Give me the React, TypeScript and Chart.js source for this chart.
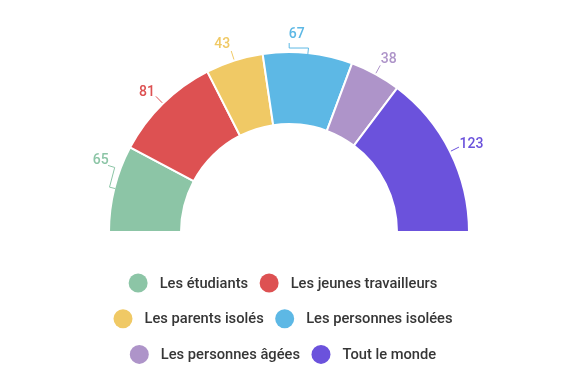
import React, { useEffect, useRef } from 'react';
import { Chart, registerables } from 'chart.js';

Chart.register(...registerables);

const categories = [
  'Les étudiants',
  'Les jeunes travailleurs',
  'Les parents isolés',
  'Les personnes isolées',
  'Les personnes âgées',
  'Tout le monde',
];
const values = [65, 81, 43, 67, 38, 123];
const colors = ['#8CC5A6', '#DD5152', '#F0C965', '#5DB8E5', '#AE94C9', '#6B52DC'];
const legendRows = [
  [0, 1],
  [2, 3],
  [4, 5],
];

const FONT = 'Roboto, "Noto Sans", sans-serif';

// Leader-line elbows for the labels that were displaced (relative offsets in px)
const elbows: Record<number, { path: number[][]; text: number[] }> = {
  0: { path: [[5.2, -19.7], [-6.7, -2]], text: [-7.3, -6.2] },
  3: { path: [[-19.3, 0], [0, -5]], text: [7.5, -9.2] },
};

const arcLabels = {
  id: 'arcLabels',
  afterDatasetsDraw(chart: any) {
    const ctx = chart.ctx as CanvasRenderingContext2D;
    const meta = chart.getDatasetMeta(0);
    const data = chart.data.datasets[0].data as number[];
    ctx.save();
    ctx.font = `500 14px ${FONT}`;
    ctx.textBaseline = 'middle';
    meta.data.forEach((arc: any, i: number) => {
      const p = arc.getProps(['startAngle', 'endAngle', 'outerRadius', 'x', 'y'], true);
      const mid = (p.startAngle + p.endAngle) / 2;
      const c = Math.cos(mid);
      const s = Math.sin(mid);
      const text = String(data[i]);
      ctx.strokeStyle = colors[i];
      ctx.fillStyle = colors[i];
      ctx.lineWidth = 1;
      const el = elbows[i];
      if (el) {
        const r0 = p.outerRadius - 1;
        const r1 = p.outerRadius + 5;
        let px = p.x + c * r1;
        let py = p.y + s * r1;
        ctx.beginPath();
        ctx.moveTo(p.x + c * r0, p.y + s * r0);
        ctx.lineTo(px, py);
        el.path.forEach(([dx, dy]) => {
          px += dx;
          py += dy;
          ctx.lineTo(px, py);
        });
        ctx.stroke();
        ctx.textAlign = 'center';
        ctx.fillText(text, px + el.text[0], py + el.text[1] + 1);
        return;
      }
      const r0 = p.outerRadius + 1;
      const r1 = p.outerRadius + 10;
      const ex = p.x + c * r1;
      const ey = p.y + s * r1;
      ctx.beginPath();
      ctx.moveTo(p.x + c * r0, p.y + s * r0);
      ctx.lineTo(ex, ey);
      ctx.stroke();
      const cy = ey + s * 7.5;
      if (c >= 0) {
        ctx.textAlign = 'left';
        ctx.fillText(text, ex + 0.5, cy + 1);
      } else {
        ctx.textAlign = 'right';
        ctx.fillText(text, ex - 1, cy + 1);
      }
    });
    ctx.restore();
  },
};

const customLegend = {
  id: 'customLegend',
  afterDraw(chart: any) {
    const ctx = chart.ctx as CanvasRenderingContext2D;
    const labels = chart.data.labels as string[];
    const radius = 9.5;
    const boxToText = 21.5;
    const textToBox = 21;
    const rowGap = 35.7;
    const firstRowY = chart.chartArea.bottom + 50;
    const centerX = chart.width / 2;
    ctx.save();
    ctx.font = `500 14.7px ${FONT}`;
    ctx.textBaseline = 'middle';
    ctx.textAlign = 'left';
    legendRows.forEach((row, ri) => {
      const widths = row.map((idx) => ctx.measureText(labels[idx]).width);
      let span = radius;
      row.forEach((_, k) => {
        span += boxToText + widths[k];
        if (k < row.length - 1) span += textToBox;
      });
      let x = centerX - span / 2 + radius;
      const y = firstRowY + ri * rowGap;
      row.forEach((idx, k) => {
        ctx.fillStyle = colors[idx];
        ctx.beginPath();
        ctx.arc(x, y, radius, 0, Math.PI * 2);
        ctx.fill();
        ctx.fillStyle = '#363636';
        ctx.fillText(labels[idx], x + boxToText, y + 1);
        x += boxToText + widths[k] + textToBox;
      });
    });
    ctx.restore();
  },
};

export default function App() {
  const canvasRef = useRef<HTMLCanvasElement | null>(null);

  useEffect(() => {
    if (!canvasRef.current) return;
    const chart = new Chart(canvasRef.current, {
      type: 'doughnut',
      data: {
        labels: categories,
        datasets: [
          {
            data: values,
            backgroundColor: colors,
            borderColor: '#ffffff',
            borderWidth: 2,
            hoverOffset: 0,
          },
        ],
      },
      options: {
        responsive: true,
        maintainAspectRatio: false,
        animation: false,
        rotation: -90,
        circumference: 180,
        cutout: '60%',
        layout: {
          padding: { left: 108, right: 96, top: 51, bottom: 157 },
        },
        plugins: {
          legend: { display: false },
          tooltip: { enabled: false },
        },
      },
      plugins: [arcLabels, customLegend],
    });
    return () => chart.destroy();
  }, []);

  return (
    <div style={{ position: 'absolute', left: 0, top: 0, width: 566, height: 390, background: '#fff' }}>
      <canvas ref={canvasRef} />
    </div>
  );
}
